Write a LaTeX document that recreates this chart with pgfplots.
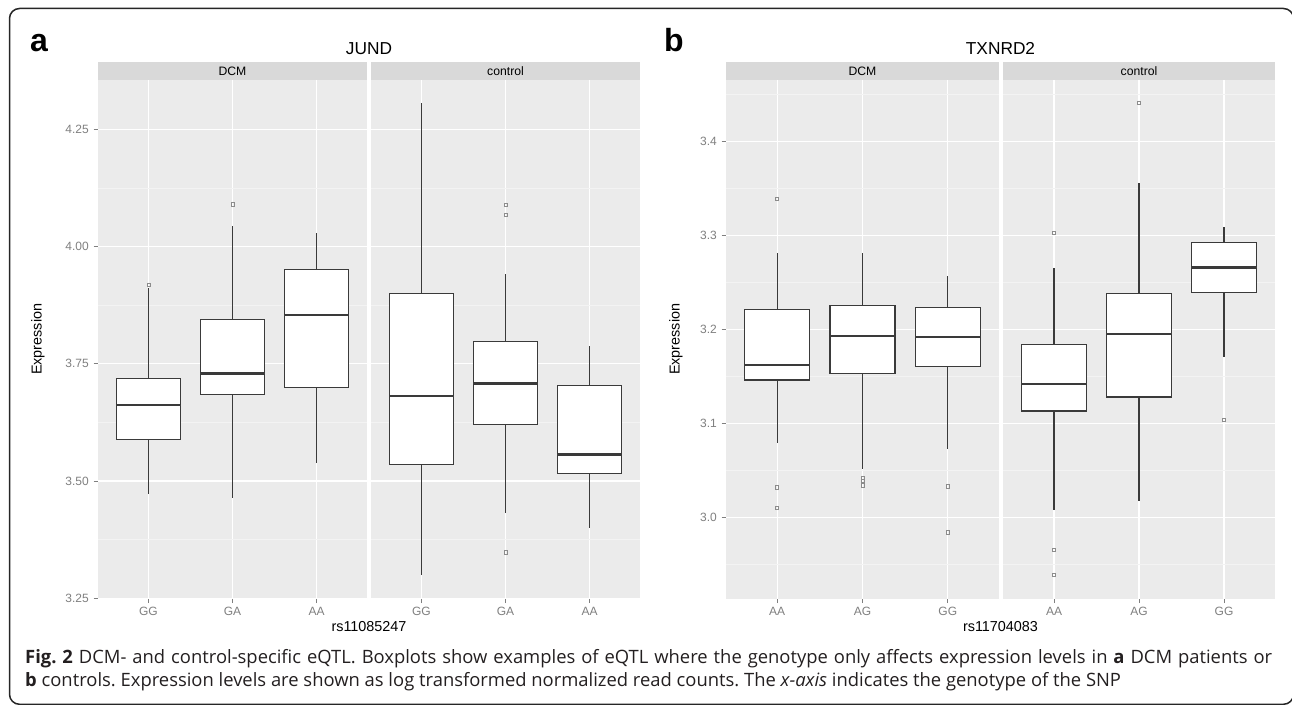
\documentclass[border=0pt]{standalone}
\usepackage{fontspec}
\setmainfont{Liberation Sans}
\newfontfamily\capfont{Open Sans}
\usepackage{pgfplots}
\pgfplotsset{compat=1.18}
\usepgfplotslibrary{statistics}

\definecolor{panelbg}{HTML}{EBEBEB}
\definecolor{stripbg}{HTML}{D9D9D9}
\definecolor{minorgrid}{HTML}{F3F3F3}
\definecolor{tickgray}{HTML}{7F7F7F}
\definecolor{boxcol}{HTML}{3A3A3A}
\definecolor{outcol}{HTML}{8C8C8C}
\definecolor{captext}{HTML}{231F20}

\pgfplotsset{
  facet/.style={
    scale only axis, height=518.6pt,
    xmin=0.4, xmax=3.6, xtick={1,2,3},
    axis line style={draw=none},
    axis background/.style={fill=panelbg},
    xmajorgrids, ymajorgrids, yminorgrids,
    major grid style={white, line width=1.3pt},
    minor grid style={minorgrid, line width=0.7pt},
    tick align=outside, major tick length=4.5pt, minor tick length=0pt,
    tick style={tickgray, line width=0.9pt},
    xtick pos=bottom, ytick pos=left,
    tick label style={font=\fontsize{12}{13}\selectfont, text=tickgray},
    xticklabel style={inner sep=0pt, yshift=-3.5pt},
    yticklabel style={inner sep=0pt, xshift=-4.5pt},
  },
  nolabels/.style={yticklabels={}, ytick style={draw=none}},
  gbox/.style={
    draw=boxcol, line width=1.2pt, fill=white, solid,
    mark=square, mark size=1.6pt,
    mark options={draw=outcol, fill=none, line width=0.6pt},
    boxplot/draw direction=y,
    boxplot/box extend=0.76, boxplot/whisker extend=0,
    boxplot/every median/.style={line width=2.6pt},
  },
  jund/.style={ymin=3.2495, ymax=4.355,
    ytick={3.25,3.5,3.75,4,4.25}, yticklabels={3.25,3.50,3.75,4.00,4.25},
    minor ytick={3.375,3.625,3.875,4.125}},
  txn/.style={ymin=2.9135, ymax=3.4652,
    ytick={3.0,3.1,3.2,3.3,3.4}, yticklabels={3.0,3.1,3.2,3.3,3.4},
    minor ytick={2.95,3.05,3.15,3.25,3.35,3.45}},
}

\begin{document}
\begin{tikzpicture}
\path[use as bounding box] (0pt,0pt) rectangle (1292pt,704pt);

% ---- a: JUND, DCM
\begin{axis}[facet, jund, at={(98pt,105.4pt)}, anchor=south west, width=269pt,
  xticklabels={GG,GA,AA}]
\addplot[gbox, boxplot prepared={draw position=1, lower whisker=3.473, lower quartile=3.588,
  median=3.662, upper quartile=3.718, upper whisker=3.912}] coordinates {(1,3.919)};
\addplot[gbox, boxplot prepared={draw position=2, lower whisker=3.465, lower quartile=3.685,
  median=3.729, upper quartile=3.844, upper whisker=4.044}] coordinates {(2,4.090)};
\addplot[gbox, boxplot prepared={draw position=3, lower whisker=3.538, lower quartile=3.700,
  median=3.854, upper quartile=3.951, upper whisker=4.028}] coordinates {};
\end{axis}

% ---- a: JUND, control
\begin{axis}[facet, jund, nolabels, at={(371pt,105.4pt)}, anchor=south west, width=269pt,
  xticklabels={GG,GA,AA}]
\addplot[gbox, boxplot prepared={draw position=1, lower whisker=3.299, lower quartile=3.536,
  median=3.681, upper quartile=3.900, upper whisker=4.306}] coordinates {};
\addplot[gbox, boxplot prepared={draw position=2, lower whisker=3.431, lower quartile=3.621,
  median=3.708, upper quartile=3.798, upper whisker=3.941}] coordinates {(2,4.089) (2,4.068) (2,3.348)};
\addplot[gbox, boxplot prepared={draw position=3, lower whisker=3.399, lower quartile=3.517,
  median=3.557, upper quartile=3.703, upper whisker=3.789}] coordinates {};
\end{axis}

% ---- b: TXNRD2, DCM
\begin{axis}[facet, txn, at={(726pt,105.4pt)}, anchor=south west, width=273pt,
  xticklabels={AA,AG,GG}]
\addplot[gbox, boxplot prepared={draw position=1, lower whisker=3.079, lower quartile=3.146,
  median=3.162, upper quartile=3.221, upper whisker=3.281}] coordinates {(1,3.339) (1,3.032) (1,3.010)};
\addplot[gbox, boxplot prepared={draw position=2, lower whisker=3.051, lower quartile=3.153,
  median=3.193, upper quartile=3.225, upper whisker=3.281}] coordinates {(2,3.042) (2,3.039) (2,3.034)};
\addplot[gbox, boxplot prepared={draw position=3, lower whisker=3.073, lower quartile=3.160,
  median=3.192, upper quartile=3.223, upper whisker=3.257}] coordinates {(3,3.033) (3,2.984)};
\end{axis}

% ---- b: TXNRD2, control
\begin{axis}[facet, txn, nolabels, at={(1003pt,105.4pt)}, anchor=south west, width=272pt,
  xticklabels={AA,AG,GG}]
\addplot[gbox, boxplot prepared={draw position=1, lower whisker=3.008, lower quartile=3.113,
  median=3.142, upper quartile=3.184, upper whisker=3.265}] coordinates {(1,3.303) (1,2.965) (1,2.939)};
\addplot[gbox, boxplot prepared={draw position=2, lower whisker=3.017, lower quartile=3.128,
  median=3.195, upper quartile=3.238, upper whisker=3.356}] coordinates {(2,3.441)};
\addplot[gbox, boxplot prepared={draw position=3, lower whisker=3.171, lower quartile=3.239,
  median=3.266, upper quartile=3.292, upper whisker=3.309}] coordinates {(3,3.104)};
\end{axis}

% strips
\fill[stripbg] (98pt,624pt) rectangle (367pt,642pt);
\fill[stripbg] (371pt,624pt) rectangle (640pt,642pt);
\fill[stripbg] (726pt,624pt) rectangle (999pt,642pt);
\fill[stripbg] (1003pt,624pt) rectangle (1275pt,642pt);
\begin{scope}[every node/.style={inner sep=0pt, anchor=base, font=\fontsize{12.2}{13}\selectfont}]
\node at (232.5pt,628.6pt) {DCM};
\node at (505.5pt,628.6pt) {control};
\node at (862.5pt,628.6pt) {DCM};
\node at (1139pt,628.6pt) {control};
\end{scope}

% titles and axis titles
\node[inner sep=0pt, anchor=base, font=\fontsize{17.3}{18}\selectfont] at (369pt,649pt) {JUND};
\node[inner sep=0pt, anchor=base, font=\fontsize{17.3}{18}\selectfont] at (1000.5pt,649pt) {TXNRD2};
\node[inner sep=0pt, anchor=base west, font=\fontsize{32}{34}\selectfont\bfseries] at (30pt,652.3pt) {a};
\node[inner sep=0pt, anchor=base west, font=\fontsize{32}{34}\selectfont\bfseries] at (664pt,652.3pt) {b};
\node[inner sep=0pt, rotate=90, font=\fontsize{14.4}{15}\selectfont] at (38pt,364.7pt) {Expression};
\node[inner sep=0pt, rotate=90, font=\fontsize{14.4}{15}\selectfont] at (676pt,364.7pt) {Expression};
\node[inner sep=0pt, anchor=base, font=\fontsize{14.4}{15}\selectfont] at (369pt,72.3pt) {rs11085247};
\node[inner sep=0pt, anchor=base, font=\fontsize{14.4}{15}\selectfont] at (1000.5pt,72.3pt) {rs11704083};

% caption
\begin{scope}[every node/.style={inner sep=0pt, anchor=base west, text=captext,
    font=\capfont\fontsize{18.4}{22}\selectfont\frenchspacing}]
\node at (25pt,41pt) {\makebox[1247pt][s]{\textbf{Fig.\ 2} DCM- and control-specific eQTL. Boxplots show examples of eQTL where the genotype only affects expression levels in \textbf{a} DCM patients or}};
\node at (25pt,18pt) {\textbf{b} controls. Expression levels are shown as log transformed normalized read counts. The \textit{x-axis} indicates the genotype of the SNP};
\end{scope}

% frame
\draw[line width=1.5pt, black!85, rounded corners=10pt] (9.5pt,-0.3pt) rectangle (1293.5pt,695.5pt);
\end{tikzpicture}
\end{document}
